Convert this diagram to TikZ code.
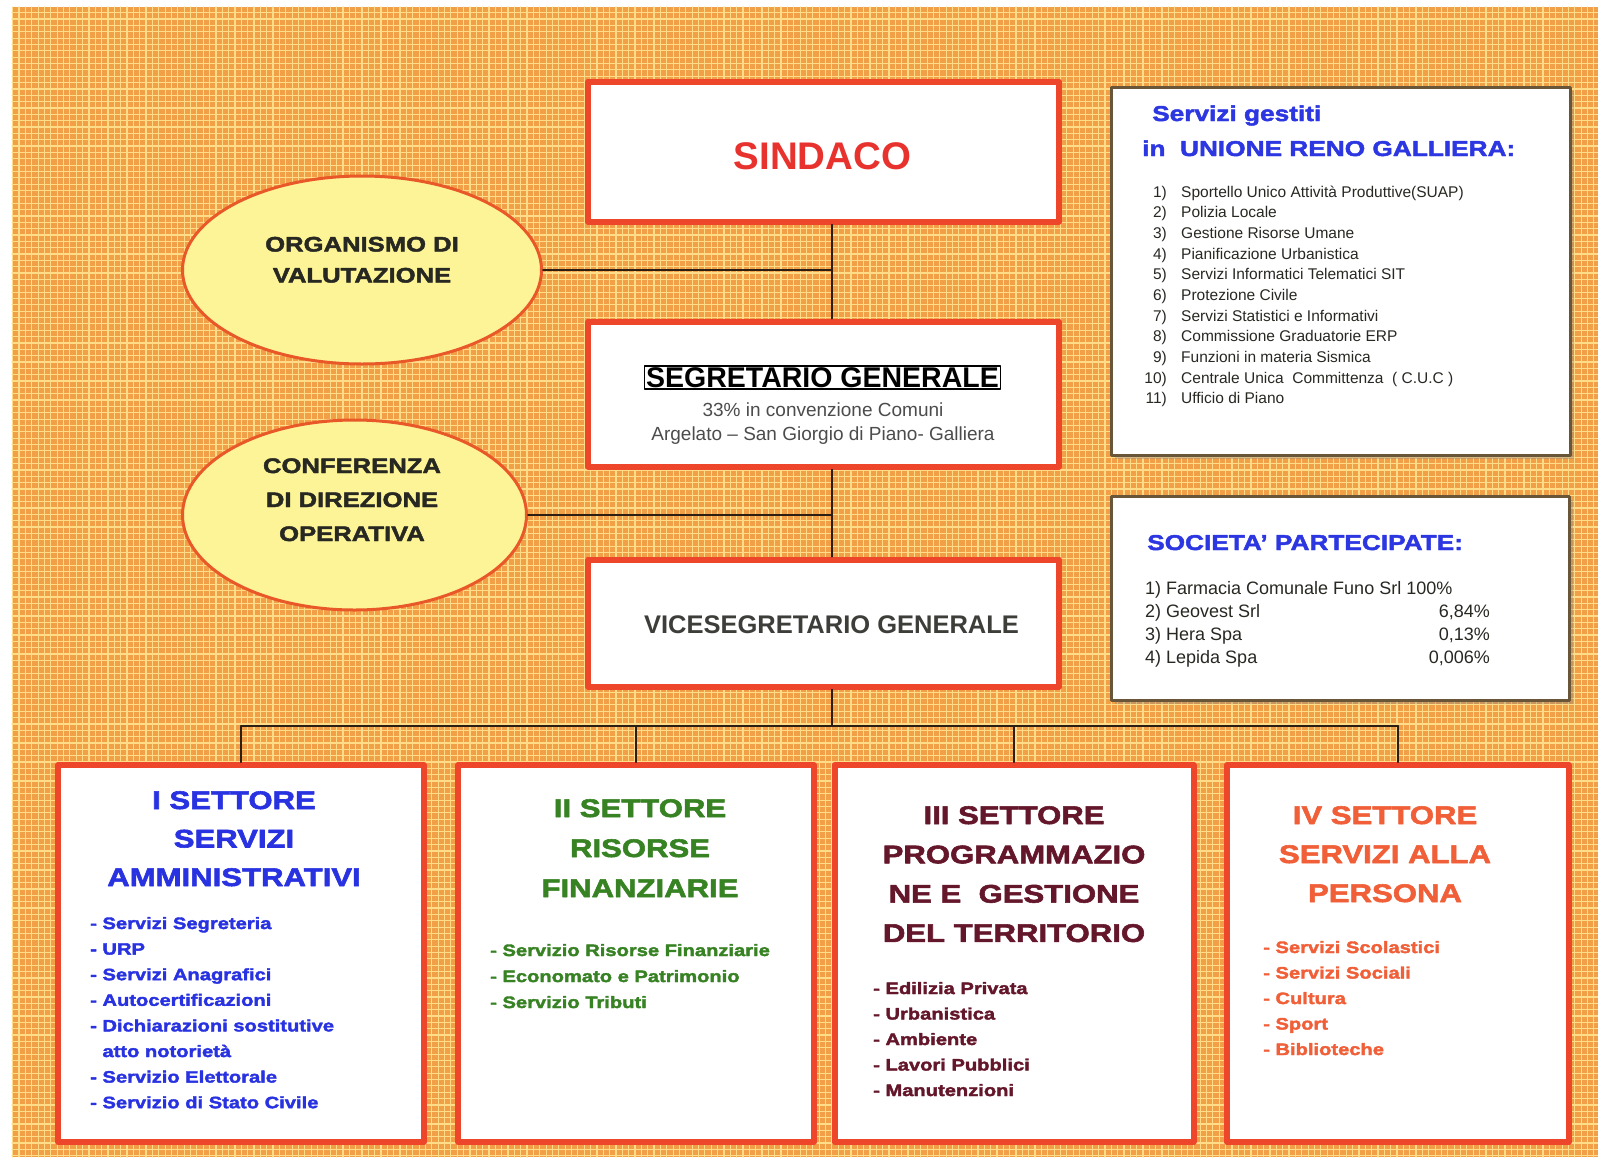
\documentclass[tikz,border=0pt]{standalone}
\usepackage{fontspec}
\setmainfont{Liberation Sans}
\newfontfamily\heavyfont{Liberation Sans Bold}[FakeStretch=1.22,FakeBold=2.2]
\newfontfamily\boldfont{Liberation Sans Bold}
\usetikzlibrary{shapes.geometric,shadows}
\definecolor{bgorange}{RGB}{242,160,72}
\definecolor{gridyellow}{RGB}{255,220,135}
\definecolor{boxred}{RGB}{238,70,42}
\definecolor{ovalred}{RGB}{232,88,40}
\definecolor{ovalfill}{RGB}{252,244,150}
\definecolor{infoframe}{RGB}{105,85,55}
\definecolor{linkcol}{RGB}{45,30,20}
\definecolor{sindred}{RGB}{232,50,45}
\definecolor{unionblue}{RGB}{45,55,225}
\definecolor{primoblue}{RGB}{40,50,225}
\definecolor{secondogreen}{RGB}{55,130,35}
\definecolor{terzored}{RGB}{100,22,42}
\definecolor{quartoorange}{RGB}{240,95,55}
\definecolor{darktext}{RGB}{40,40,35}
\begin{document}
\begin{tikzpicture}[x=1pt,y=-1pt,line join=round,line cap=round,
  redbox/.style={draw=boxred,line width=6pt,fill=white,inner sep=0pt},
  ovalbox/.style={ellipse,draw=ovalred,line width=3pt,fill=ovalfill,inner sep=0pt},
  infobox/.style={draw=infoframe,line width=2.5pt,fill=white,inner sep=0pt,
    drop shadow={shadow xshift=3pt,shadow yshift=-3pt,opacity=.35}},
  link/.style={draw=linkcol,line width=2pt},
  txt/.style={inner sep=0pt,anchor=base},
  settitle/.style={txt,font=\heavyfont\fontsize{25.5}{30}\selectfont},
  setitem/.style={txt,anchor=base west,font=\heavyfont\fontsize{16.5}{20}\selectfont},
  ovaltext/.style={txt,text=darktext,font=\heavyfont\fontsize{21}{25}\selectfont},
  infohead/.style={txt,anchor=base west,text=unionblue,font=\heavyfont\fontsize{21.5}{25}\selectfont},
  listitem/.style={txt,anchor=base west,text=darktext,font=\fontsize{15.5}{18}\selectfont},
  listnum/.style={listitem,anchor=base east},
  quota/.style={txt,anchor=base west,text=darktext,font=\fontsize{18}{21}\selectfont}]

\useasboundingbox (0,0) rectangle (1598,1157);
\fill[white] (0,0) rectangle (1598,1157);
\fill[bgorange] (12,7) rectangle (1598,1157);
\draw[gridyellow,line width=1.2pt,step=6.35pt] (12,1157) grid (1598,7);

\node[redbox,minimum width=471pt,minimum height=140pt] (sindaco) at (823.5,151.5) {};
\node[redbox,minimum width=471pt,minimum height=145pt] (segr) at (823.5,394) {};
\node[redbox,minimum width=471pt,minimum height=127pt] (vice) at (823.5,623) {};
\node[ovalbox,minimum width=359pt,minimum height=188pt] (orgval) at (362,270) {};
\node[ovalbox,minimum width=344pt,minimum height=190pt] (confdir) at (354.5,515) {};
\node[infobox,minimum width=459pt,minimum height=368pt] (unione) at (1341,271.5) {};
\node[infobox,minimum width=458pt,minimum height=204pt] (societa) at (1340.5,598.5) {};

\node[redbox,minimum width=366pt,minimum height=377pt] (set1) at (241,953.5) {};
\node[redbox,minimum width=356pt,minimum height=377pt] (set2) at (636,953.5) {};
\node[redbox,minimum width=359pt,minimum height=377pt] (set3) at (1014,953.5) {};
\node[redbox,minimum width=342pt,minimum height=377pt] (set4) at (1398,953.5) {};

\coordinate (bus) at (832,726);
\draw[link] (sindaco.south -| bus) -- (segr.north -| bus);
\draw[link] (segr.south -| bus) -- (vice.north -| bus);
\draw[link] (vice.south -| bus) -- (bus);
\draw[link] (orgval.east) -- (orgval.east -| bus);
\draw[link] (confdir.east) -- (confdir.east -| bus);
\draw[link] (set1.north |- bus) -- (set4.north |- bus);
\foreach \k in {1,...,4}
  \draw[link] (set\k.north |- bus) -- (set\k.north);

\node[txt,text=sindred,font=\boldfont\fontsize{38.5}{44}\selectfont] (sindtxt) at (822.5,169.5) {SINDACO};
\node[draw=black,line width=1.5pt,inner sep=1.5pt,font=\boldfont\fontsize{28.5}{33}\selectfont] (segrtxt) at (822.5,377.5) {SEGRETARIO GENERALE};
\node[txt,text=black!70,font=\fontsize{19}{22}\selectfont] (conv1) at (823,416) {33\% in convenzione Comuni};
\node[txt,text=black!70,font=\fontsize{19}{22}\selectfont] (conv2) at (823,440) {Argelato -- San Giorgio di Piano- Galliera};
\node[txt,text=darktext!90,font=\boldfont\fontsize{25.5}{30}\selectfont] (vicetxt) at (831.5,633) {VICESEGRETARIO GENERALE};

\node[ovaltext] (org1) at (362,251.5) {ORGANISMO DI};
\node[ovaltext] (org2) at (362,282.5) {VALUTAZIONE};
\foreach \t [count=\i] in {CONFERENZA,DI DIREZIONE,OPERATIVA}
  \node[ovaltext] (conf\i) at (352,{473+34*(\i-1)}) {\t};

\node[infohead] (unhead1) at (1152,121) {Servizi gestiti};
\node[infohead] (unhead2) at (1142,156) {in\ \ UNIONE RENO GALLIERA:};
\foreach \t [count=\i] in {Sportello Unico Attività Produttive(SUAP),Polizia Locale,Gestione Risorse Umane,
  Pianificazione Urbanistica,Servizi Informatici Telematici SIT,Protezione Civile,Servizi Statistici e Informativi,
  Commissione Graduatorie ERP,Funzioni in materia Sismica,Centrale Unica\ \ Committenza\ \ ( C.U.C ),Ufficio di Piano}
{
  \node[listnum] (unnum\i) at (1167,{197.2+20.66*(\i-1)}) {\i)};
  \node[listitem] (unsrv\i) at (1181,{197.2+20.66*(\i-1)}) {\t};
}

\node[infohead] (sochead) at (1147,550) {SOCIETA’ PARTECIPATE:};
\node[quota] (soc1) at (1145,594.5) {1) Farmacia Comunale Funo Srl 100\%};
\foreach \t/\p [count=\i from 2] in {Geovest Srl/{6,84\%},Hera Spa/{0,13\%},Lepida Spa/{0,006\%}}
{
  \node[quota] (soc\i) at (1145,{594.5+22.9*(\i-1)}) {\i) \t};
  \node[quota,anchor=base east] (socq\i) at (1490,{594.5+22.9*(\i-1)}) {\p};
}

\foreach \t [count=\i] in {I SETTORE,SERVIZI,AMMINISTRATIVI}
  \node[settitle,text=primoblue] (s1t\i) at (234,{809+38.5*(\i-1)}) {\t};
\foreach \t [count=\i] in {Servizi Segreteria,URP,Servizi Anagrafici,Autocertificazioni,
  Dichiarazioni sostitutive,\phantom{- }atto notorietà,Servizio Elettorale,Servizio di Stato Civile}
  \node[setitem,text=primoblue] (s1v\i) at (90,{929+25.6*(\i-1)}) {\ifnum\i=6 \else- \fi\t};

\foreach \t [count=\i] in {II SETTORE,RISORSE,FINANZIARIE}
  \node[settitle,text=secondogreen] (s2t\i) at (640,{817+40*(\i-1)}) {\t};
\foreach \t [count=\i] in {Servizio Risorse Finanziarie,Economato e Patrimonio,Servizio Tributi}
  \node[setitem,text=secondogreen] (s2v\i) at (490,{956+26*(\i-1)}) {- \t};

\foreach \t [count=\i] in {III SETTORE,PROGRAMMAZIO,NE E\ \ GESTIONE,DEL TERRITORIO}
  \node[settitle,text=terzored] (s3t\i) at (1014,{824+39.3*(\i-1)}) {\t};
\foreach \t [count=\i] in {Edilizia Privata,Urbanistica,Ambiente,Lavori Pubblici,Manutenzioni}
  \node[setitem,text=terzored] (s3v\i) at (873,{994+25.5*(\i-1)}) {- \t};

\foreach \t [count=\i] in {IV SETTORE,SERVIZI ALLA,PERSONA}
  \node[settitle,text=quartoorange] (s4t\i) at (1385,{824+39*(\i-1)}) {\t};
\foreach \t [count=\i] in {Servizi Scolastici,Servizi Sociali,Cultura,Sport,Biblioteche}
  \node[setitem,text=quartoorange] (s4v\i) at (1263,{953+25.5*(\i-1)}) {- \t};

\end{tikzpicture}
\end{document}
